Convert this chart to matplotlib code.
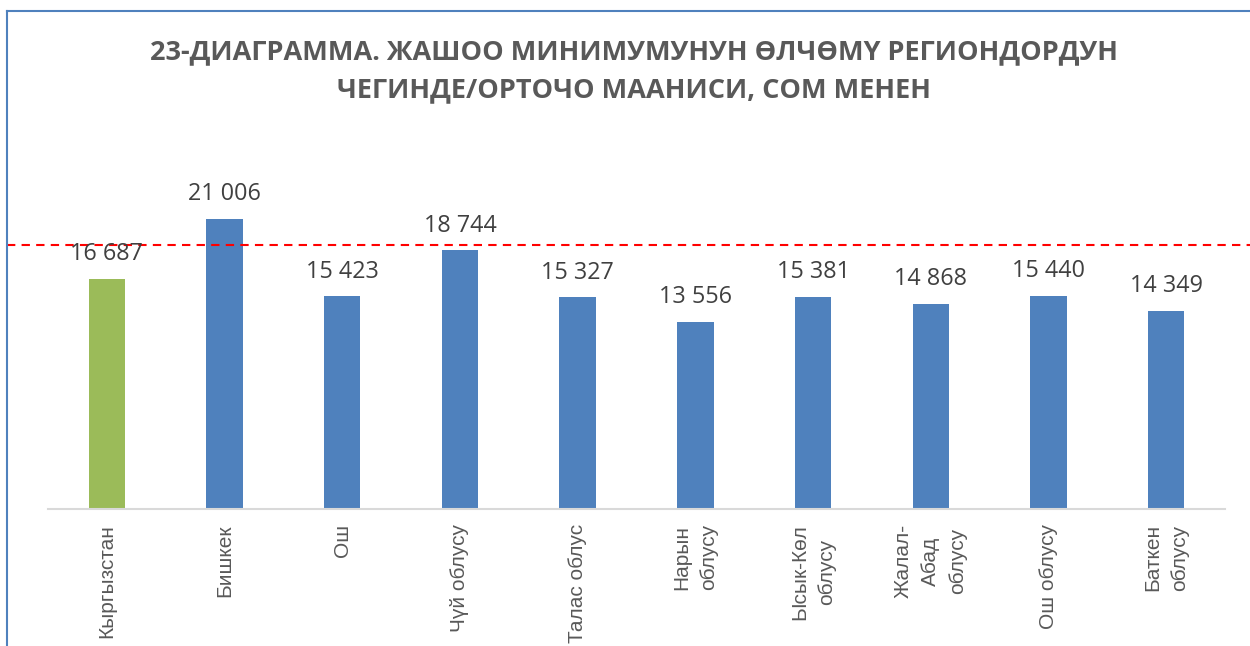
import matplotlib.pyplot as plt
from matplotlib.lines import Line2D

categories = ["Кыргызстан", "Бишкек", "Ош", "Чүй облусу", "Талас облус",
              "Нарын\nоблусу", "Ысык-Көл\nоблусу", "Жалал-\nАбад\nоблусу",
              "Ош облусу", "Баткен\nоблусу"]
values = [16687, 21006, 15423, 18744, 15327, 13556, 15381, 14868, 15440, 14349]
ref_line = 19150

title = ("23-ДИАГРАММА. ЖАШОО МИНИМУМУНУН ӨЛЧӨМҮ РЕГИОНДОРДУН\n"
         "ЧЕГИНДЕ/ОРТОЧО МААНИСИ, СОМ МЕНЕН")

green = "#9BBB59"
blue = "#4F81BD"
colors = [green] + [blue] * (len(values) - 1)

fig = plt.figure(figsize=(12.5, 6.46), dpi=100)
ax = fig.add_axes([48 / 1250, 1 - 509 / 646, 1177 / 1250, 359 / 646])

x = range(len(values))
ax.bar(x, values, width=0.31, color=colors)

for i, v in zip(x, values):
    ax.annotate(f"{v:,}".replace(",", " "), xy=(i, v), xytext=(0, 9),
                textcoords="offset points", ha="center", va="bottom",
                fontsize=16.8, color="#404040", family=["Open Sans", "DejaVu Sans"])

# dashed reference line running across the whole chart area
ax.axhline(ref_line, xmin=-0.035, xmax=1.03, color="#FF0000", lw=1.5,
           linestyle=(0, (4, 3)), clip_on=False)

ax.set_xlim(-0.5, len(values) - 0.5)
ax.set_ylim(0, 26000)
ax.set_xticks(list(x))
ax.set_xticklabels(categories, rotation=90, multialignment="center", linespacing=1.55,
                   fontsize=15, color="#595959", family=["Liberation Sans", "DejaVu Sans"])
ax.tick_params(axis="x", length=0, pad=11)
ax.set_yticks([])
for side in ["top", "right", "left"]:
    ax.spines[side].set_visible(False)
ax.spines["bottom"].set_color("#D9D9D9")
ax.spines["bottom"].set_linewidth(1.5)

fig.text(634 / 1250, 1 - 39 / 646, title, ha="center", va="top", fontsize=19.5,
         fontweight="bold", color="#595959", linespacing=1.6,
         family=["Open Sans", "DejaVu Sans"])

# chart frame (left and top edges of the cropped border)
fig.add_artist(Line2D([7 / 1250, 7 / 1250], [0, 1 - 11 / 646], color="#4F81BD", lw=1.5))
fig.add_artist(Line2D([7 / 1250, 1], [1 - 11 / 646, 1 - 11 / 646], color="#4F81BD", lw=1.5))

fig.savefig("out.png", dpi=100)
